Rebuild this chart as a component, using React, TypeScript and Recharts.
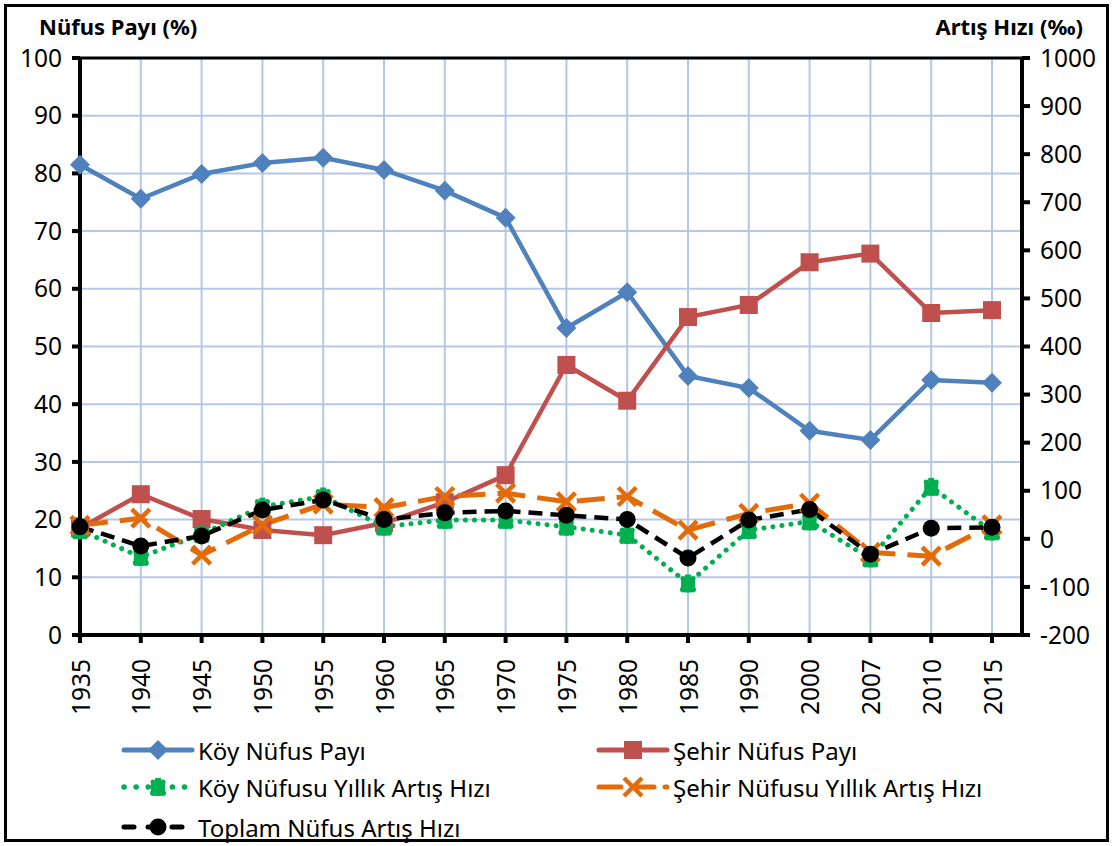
import { LineChart, Line, XAxis, YAxis, CartesianGrid, ReferenceLine } from 'recharts';

const years = ['1935', '1940', '1945', '1950', '1955', '1960', '1965', '1970', '1975', '1980', '1985', '1990', '2000', '2007', '2010', '2015'];
const koyPay = [81.5, 75.6, 79.9, 81.8, 82.7, 80.6, 77.0, 72.3, 53.2, 59.4, 44.9, 42.8, 35.4, 33.8, 44.2, 43.7];
const sehirPay = [18.5, 24.4, 20.1, 18.2, 17.3, 19.4, 23.0, 27.7, 46.8, 40.6, 55.1, 57.2, 64.6, 66.1, 55.8, 56.3];
const koyHiz = [18, -38, 10, 67, 88, 25, 39, 39, 25, 8, -93, 18, 36, -41, 108, 15];
const sehirHiz = [28, 43, -34, 29, 72, 65, 88, 95, 77, 88, 18, 53, 74, -28, -36, 29];
const toplamHiz = [25, -15, 6, 60, 81, 40, 54, 58, 49, 40, -40, 39, 61, -32, 22, 24];

const leftTicks = [0, 10, 20, 30, 40, 50, 60, 70, 80, 90, 100];
const rightTicks = [-200, -100, 0, 100, 200, 300, 400, 500, 600, 700, 800, 900, 1000];

const data = years.map((year, i) => ({
  year,
  koyPay: koyPay[i],
  sehirPay: sehirPay[i],
  koyHiz: koyHiz[i],
  sehirHiz: sehirHiz[i],
  toplamHiz: toplamHiz[i],
}));

const FONT = '"Noto Sans", sans-serif';
const BLUE = '#4F81BD';
const RED = '#C0504D';
const GREEN = '#00B050';
const ORANGE = '#E36C09';

const Diamond = ({ cx, cy, color }) => (
  <path d={`M${cx},${cy - 10} L${cx + 10},${cy} L${cx},${cy + 10} L${cx - 10},${cy} Z`} fill={color} />
);
const Square = ({ cx, cy, color }) => <rect x={cx - 9} y={cy - 9} width={18} height={18} fill={color} />;
const Cross = ({ cx, cy, color }) => (
  <path d={`M${cx - 9},${cy - 9} L${cx + 9},${cy + 9} M${cx + 9},${cy - 9} L${cx - 9},${cy + 9}`} stroke={color} strokeWidth={4.5} fill="none" />
);
const Dot = ({ cx, cy, color }) => <circle cx={cx} cy={cy} r={8.5} fill={color} />;
const Star = ({ cx, cy, color }) => (
  <g fill={color}>
    <rect x={cx - 3} y={cy - 9} width={6} height={18} />
    <rect x={cx - 7} y={cy - 4} width={14} height={8} />
    <circle cx={cx - 5} cy={cy + 6} r={3} />
    <circle cx={cx + 5} cy={cy + 6} r={3} />
    <circle cx={cx - 5} cy={cy - 5} r={2.5} />
    <circle cx={cx + 5} cy={cy - 5} r={2.5} />
  </g>
);

const mk = (Shape, color) => (props) => {
  const { cx, cy, index } = props;
  if (cx == null || cy == null) return <g key={index} />;
  return <Shape key={index} cx={cx} cy={cy} color={color} />;
};

const YearTick = ({ x, y, payload }) => (
  <text x={x} y={y + 14} transform={`rotate(-90 ${x} ${y + 14})`} textAnchor="end" dominantBaseline="central" fontSize={24.5} fontFamily={FONT} fill="#000">
    {payload.value}
  </text>
);

const legendItems = [
  { label: 'Köy Nüfus Payı', color: BLUE, dash: undefined, width: 5, cap: 'round', shape: Diamond, x: 120, y: 750 },
  { label: 'Şehir Nüfus Payı', color: RED, dash: undefined, width: 5, cap: 'round', shape: Square, x: 595, y: 750 },
  { label: 'Köy Nüfusu Yıllık Artış Hızı', color: GREEN, dash: '0.1 12', width: 5.5, cap: 'round', shape: Star, x: 120, y: 787 },
  { label: 'Şehir Nüfusu Yıllık Artış Hızı', color: ORANGE, dash: '22 11', width: 5, cap: 'round', shape: Cross, x: 595, y: 787 },
  { label: 'Toplam Nüfus Artış Hızı', color: '#000', dash: '10 14', width: 5, cap: 'round', shape: Dot, x: 120, y: 827 },
];

const axisLine = { stroke: '#000', strokeWidth: 4 };
const tickLine = { stroke: '#000', strokeWidth: 4 };
const tickStyle = { fill: '#000', fontSize: 24.5, fontFamily: FONT };

export default function App() {
  return (
    <div style={{ position: 'absolute', left: 0, top: 0, width: 1113, height: 846, background: '#fff', fontFamily: FONT }}>
      <LineChart width={1113} height={846} data={data} margin={{ top: 58, right: 11, left: 20, bottom: 141 }}>
        <CartesianGrid yAxisId="left" stroke="#B4C7E7" strokeWidth={2} />
        <XAxis dataKey="year" padding={{ left: 0, right: 30 }} axisLine={axisLine} tickLine={tickLine} tickSize={8} tick={<YearTick />} interval={0} height={70} />
        <YAxis yAxisId="left" domain={[0, 100]} ticks={leftTicks} width={60} axisLine={axisLine} tickLine={tickLine} tickSize={8} tickMargin={10} tick={tickStyle} />
        <YAxis yAxisId="right" orientation="right" domain={[-200, 1000]} ticks={rightTicks} width={80} axisLine={axisLine} tickLine={tickLine} tickSize={8} tickMargin={10} tick={tickStyle} />
        <ReferenceLine yAxisId="left" y={100} stroke="#000" strokeWidth={3} />
        <Line yAxisId="left" dataKey="koyPay" stroke={BLUE} strokeWidth={4.5} dot={mk(Diamond, BLUE)} isAnimationActive={false} />
        <Line yAxisId="left" dataKey="sehirPay" stroke={RED} strokeWidth={4.5} dot={mk(Square, RED)} isAnimationActive={false} />
        <Line yAxisId="right" dataKey="koyHiz" stroke={GREEN} strokeWidth={5} strokeDasharray="0.1 9" strokeLinecap="round" dot={mk(Star, GREEN)} isAnimationActive={false} />
        <Line yAxisId="right" dataKey="sehirHiz" stroke={ORANGE} strokeWidth={5} strokeDasharray="28 12" dot={mk(Cross, ORANGE)} isAnimationActive={false} />
        <Line yAxisId="right" dataKey="toplamHiz" stroke="#000" strokeWidth={4.5} strokeDasharray="14 8" dot={mk(Dot, '#000')} isAnimationActive={false} />
      </LineChart>
      <div style={{ position: 'absolute', left: 39, top: 11, fontSize: 22, fontWeight: 'bold' }}>Nüfus Payı (%)</div>
      <div style={{ position: 'absolute', right: 30, top: 11, fontSize: 22, fontWeight: 'bold' }}>Artış Hızı (‰)</div>
      {legendItems.map((it) => (
        <div key={it.label} style={{ position: 'absolute', left: it.x, top: it.y - 17, height: 34, display: 'flex', alignItems: 'center', fontSize: 24 }}>
          <svg width={76} height={32}>
            <line x1={4} y1={16} x2={72} y2={16} stroke={it.color} strokeWidth={it.width} strokeDasharray={it.dash} strokeLinecap={it.cap} />
            <it.shape cx={38} cy={16} color={it.color} />
          </svg>
          <span style={{ marginLeft: 2 }}>{it.label}</span>
        </div>
      ))}
      <div style={{ position: 'absolute', left: 4, top: 4, width: 1105, height: 838, border: '3px solid #000', boxSizing: 'border-box', pointerEvents: 'none' }} />
    </div>
  );
}
